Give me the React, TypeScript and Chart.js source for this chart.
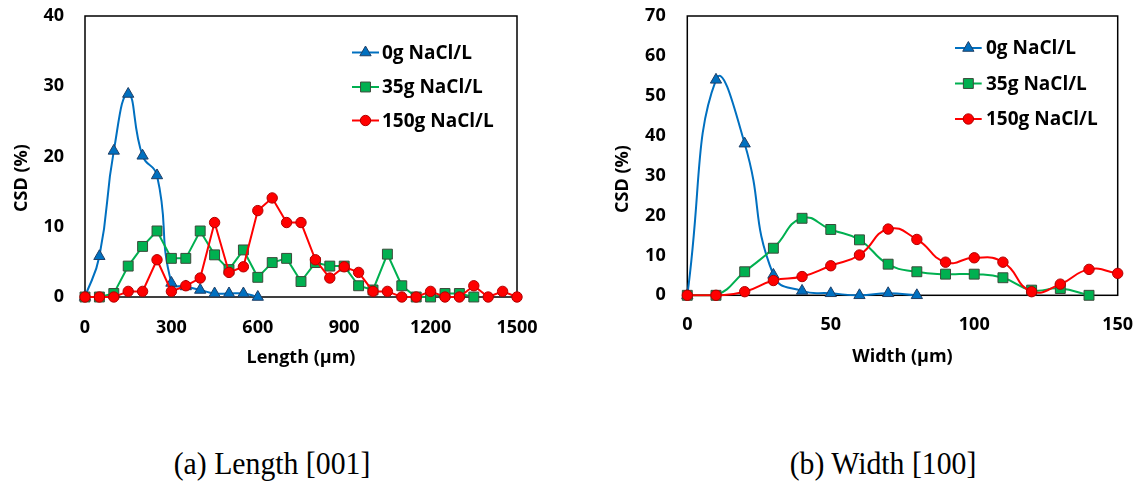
import React, { useEffect, useRef } from "react";
import { Chart, registerables } from "chart.js";

Chart.register(...registerables);

// ---------- Data: (a) Length [001] ----------
const lengthX0g = [0, 50, 100, 150, 200, 250, 300, 350, 400, 450, 500, 550, 600];
const lengthY0g = [0, 5.8, 20.8, 28.9, 20.1, 17.3, 2.0, 1.5, 1.0, 0.5, 0.5, 0.5, 0];

const lengthX35g = [0, 50, 100, 150, 200, 250, 300, 350, 400, 450, 500, 550, 600, 650, 700, 750, 800, 850, 900, 950, 1000, 1050, 1100, 1150, 1200, 1250, 1300, 1350];
const lengthY35g = [0, 0, 0.5, 4.4, 7.2, 9.4, 5.5, 5.5, 9.4, 6.0, 3.9, 6.7, 2.8, 4.9, 5.5, 2.2, 4.9, 4.4, 4.4, 1.6, 1.0, 6.1, 1.6, 0, 0, 0.5, 0.5, 0];

const lengthX150g = [0, 50, 100, 150, 200, 250, 300, 350, 400, 450, 500, 550, 600, 650, 700, 750, 800, 850, 900, 950, 1000, 1050, 1100, 1150, 1200, 1250, 1300, 1350, 1400, 1450, 1500];
const lengthY150g = [0, 0, 0, 0.8, 0.8, 5.3, 0.8, 1.6, 2.7, 10.6, 3.5, 4.3, 12.3, 14.1, 10.6, 10.6, 5.3, 2.7, 4.3, 3.5, 0.8, 0.8, 0, 0, 0.8, 0, 0, 1.6, 0, 0.8, 0];

const lengthTicks = [0, 300, 600, 900, 1200, 1500];

// ---------- Data: (b) Width [100] ----------
const widthX0g = [0, 10, 20, 30, 40, 50, 60, 70, 80];
const widthY0g = [0, 54, 38, 5.1, 1.1, 0.5, 0, 0.5, 0];

const widthX35g = [0, 10, 20, 30, 40, 50, 60, 70, 80, 90, 100, 110, 120, 130, 140];
const widthY35g = [0, 0, 5.9, 11.8, 19.3, 16.5, 13.9, 7.8, 5.9, 5.3, 5.3, 4.4, 1.3, 1.7, 0];

const widthX150g = [0, 10, 20, 30, 40, 50, 60, 70, 80, 90, 100, 110, 120, 130, 140, 150];
const widthY150g = [0, 0, 0.9, 3.7, 4.7, 7.4, 10.1, 16.6, 14.0, 8.3, 9.4, 8.3, 0.9, 2.8, 6.5, 5.5];

const widthTicks = [0, 50, 100, 150];

const seriesNames = ["0g NaCl/L", "35g NaCl/L", "150g NaCl/L"];

// ---------- Styles ----------
const FONT = "'Open Sans', 'Liberation Sans', sans-serif";
const SERIES_STYLE = [
  { line: "#0070C0", fill: "#0070C0", stroke: "#1F3F66", point: "triangle", r: 6.5 },
  { line: "#00B050", fill: "#00B050", stroke: "#3A4A3A", point: "rect", r: 7 },
  { line: "#FF0000", fill: "#FF0000", stroke: "#B00000", point: "circle", r: 5.2 },
];

function toPoints(xs: number[], ys: number[]) {
  return xs.map((x, i) => ({ x, y: ys[i] }));
}

function drawMarker(ctx: CanvasRenderingContext2D, style: string, x: number, y: number, r: number, fill: string, stroke: string) {
  ctx.beginPath();
  if (style === "triangle") {
    for (let i = 0; i < 3; i++) {
      const a = (i * 2 * Math.PI) / 3;
      const px = x + Math.sin(a) * r;
      const py = y - Math.cos(a) * r;
      if (i === 0) ctx.moveTo(px, py);
      else ctx.lineTo(px, py);
    }
    ctx.closePath();
  } else if (style === "rect") {
    const s = r * Math.SQRT1_2;
    ctx.rect(x - s, y - s, 2 * s, 2 * s);
  } else {
    ctx.arc(x, y, r, 0, Math.PI * 2);
  }
  ctx.fillStyle = fill;
  ctx.fill();
  ctx.lineWidth = 1;
  ctx.strokeStyle = stroke;
  ctx.stroke();
}

type Cfg = {
  xs: number[][];
  ys: number[][];
  smooth: boolean[];
  xMax: number;
  xTicks: number[];
  yMax: number;
  xTitle: string;
  plotLeft: number;
  plotRight: number;
  plotBottom: number;
  canvasW: number;
  canvasH: number;
  yTickPad: number;
  xTickPad: number;
  xTitlePad: number;
  yTitleX: number;
  yTitleY: number;
  legendX0: number;
  legendX1: number;
  legendTextX: number;
  legendRows: number[];
};

function ChartPanel({ cfg, left }: { cfg: Cfg; left: number }) {
  const ref = useRef<HTMLCanvasElement | null>(null);
  useEffect(() => {
    if (!ref.current) return;
    const font = { family: FONT, size: 18, weight: "bold" as const };
    const decor = {
      id: "decor",
      beforeDatasetsDraw(chart: any) {
        const { ctx, chartArea } = chart;
        ctx.save();
        ctx.strokeStyle = "#000";
        ctx.lineWidth = 1.5;
        ctx.strokeRect(chartArea.left, chartArea.top, chartArea.right - chartArea.left, chartArea.bottom - chartArea.top);
        ctx.restore();
      },
      afterDraw(chart: any) {
        const ctx: CanvasRenderingContext2D = chart.ctx;
        ctx.save();
        // y-axis title
        ctx.translate(cfg.yTitleX, cfg.yTitleY);
        ctx.rotate(-Math.PI / 2);
        ctx.font = `bold 18px ${FONT}`;
        ctx.fillStyle = "#000";
        ctx.textAlign = "center";
        ctx.textBaseline = "middle";
        ctx.fillText("CSD (%)", 0, 0);
        ctx.restore();
        // legend
        ctx.save();
        seriesNames.forEach((name, i) => {
          const st = SERIES_STYLE[i];
          const y = cfg.legendRows[i];
          ctx.beginPath();
          ctx.moveTo(cfg.legendX0, y);
          ctx.lineTo(cfg.legendX1, y);
          ctx.strokeStyle = st.line;
          ctx.lineWidth = 2;
          ctx.stroke();
          drawMarker(ctx, st.point, (cfg.legendX0 + cfg.legendX1) / 2, y, st.r, st.fill, st.stroke);
          ctx.font = `bold 19px ${FONT}`;
          ctx.fillStyle = "#000";
          ctx.textAlign = "left";
          ctx.textBaseline = "middle";
          ctx.fillText(name, cfg.legendTextX, y + 1);
        });
        ctx.restore();
      },
    };

    const datasets = seriesNames.map((name, i) => {
      const st = SERIES_STYLE[i];
      return {
        label: name,
        data: toPoints(cfg.xs[i], cfg.ys[i]),
        borderColor: st.line,
        backgroundColor: st.fill,
        borderWidth: 2,
        tension: cfg.smooth[i] ? 0.5 : 0,
        pointStyle: st.point,
        pointRadius: st.r,
        pointBackgroundColor: st.fill,
        pointBorderColor: st.stroke,
        pointBorderWidth: 1,
        clip: false as any,
        order: 2 - i,
      };
    });

    const chart = new Chart(ref.current, {
      type: "line",
      data: { datasets },
      plugins: [decor],
      options: {
        animation: false,
        responsive: false,
        maintainAspectRatio: false,
        layout: { padding: { left: 0, top: 16, right: cfg.canvasW - cfg.plotRight, bottom: 0 } },
        plugins: { legend: { display: false }, tooltip: { enabled: false }, title: { display: false } },
        scales: {
          x: {
            type: "linear",
            min: 0,
            max: cfg.xMax,
            afterBuildTicks(s: any) {
              s.ticks = cfg.xTicks.map((v) => ({ value: v }));
            },
            ticks: {
              font,
              color: "#000",
              padding: cfg.xTickPad,
              maxRotation: 0,
              callback: (v: any) => String(v),
            },
            grid: { display: false, drawTicks: false },
            border: { display: false },
            title: { display: true, text: cfg.xTitle, font, color: "#000", padding: { top: 0, bottom: cfg.xTitlePad } },
            afterFit(s: any) {
              s.height = cfg.canvasH - cfg.plotBottom;
              s.paddingLeft = 0;
              s.paddingRight = 0;
            },
          },
          y: {
            type: "linear",
            min: 0,
            max: cfg.yMax,
            ticks: { stepSize: 10, font, color: "#000", padding: cfg.yTickPad, callback: (v: any) => String(v) },
            grid: { display: false, drawTicks: false },
            border: { display: false },
            afterFit(s: any) {
              s.width = cfg.plotLeft;
              s.paddingTop = 0;
              s.paddingBottom = 0;
            },
          },
        },
      } as any,
    });
    return () => chart.destroy();
  }, []);
  return (
    <canvas
      ref={ref}
      width={cfg.canvasW}
      height={cfg.canvasH}
      style={{ position: "absolute", left, top: 0, width: cfg.canvasW, height: cfg.canvasH }}
    />
  );
}

const leftCfg: Cfg = {
  xs: [lengthX0g, lengthX35g, lengthX150g],
  ys: [lengthY0g, lengthY35g, lengthY150g],
  smooth: [true, false, false],
  xMax: 1500,
  xTicks: lengthTicks,
  yMax: 40,
  xTitle: "Length (µm)",
  plotLeft: 85,
  plotRight: 517,
  plotBottom: 297,
  canvasW: 571,
  canvasH: 380,
  yTickPad: 21,
  xTickPad: 20,
  xTitlePad: 11,
  yTitleX: 22,
  yTitleY: 178,
  legendX0: 352,
  legendX1: 379,
  legendTextX: 382,
  legendRows: [52.5, 87, 120.5],
};

const rightCfg: Cfg = {
  xs: [widthX0g, widthX35g, widthX150g],
  ys: [widthY0g, widthY35g, widthY150g],
  smooth: [true, true, true],
  xMax: 150,
  xTicks: widthTicks,
  yMax: 70,
  xTitle: "Width (µm)",
  plotLeft: 116.3,
  plotRight: 546.7,
  plotBottom: 295.3,
  canvasW: 571,
  canvasH: 380,
  yTickPad: 21.6,
  xTickPad: 19,
  xTitlePad: 12.5,
  yTitleX: 52,
  yTitleY: 179,
  legendX0: 384,
  legendX1: 410.7,
  legendTextX: 415,
  legendRows: [48, 83.5, 119],
};

export default function App() {
  const capStyle: React.CSSProperties = {
    position: "absolute",
    top: 447,
    width: 320,
    textAlign: "center",
    fontFamily: "'Liberation Serif', 'Times New Roman', serif",
    fontSize: 32,
    lineHeight: "32px",
    color: "#000",
    whiteSpace: "nowrap",
    transform: "scaleX(0.93)",
    transformOrigin: "50% 50%",
  };
  return (
    <div style={{ position: "absolute", left: 0, top: 0, width: 1142, height: 484, background: "#fff", overflow: "hidden" }}>
      <ChartPanel cfg={leftCfg} left={0} />
      <ChartPanel cfg={rightCfg} left={571} />
      <div style={{ ...capStyle, left: 272 - 160 }}>(a) Length [001]</div>
      <div style={{ ...capStyle, left: 882.5 - 160 }}>(b) Width [100]</div>
    </div>
  );
}
